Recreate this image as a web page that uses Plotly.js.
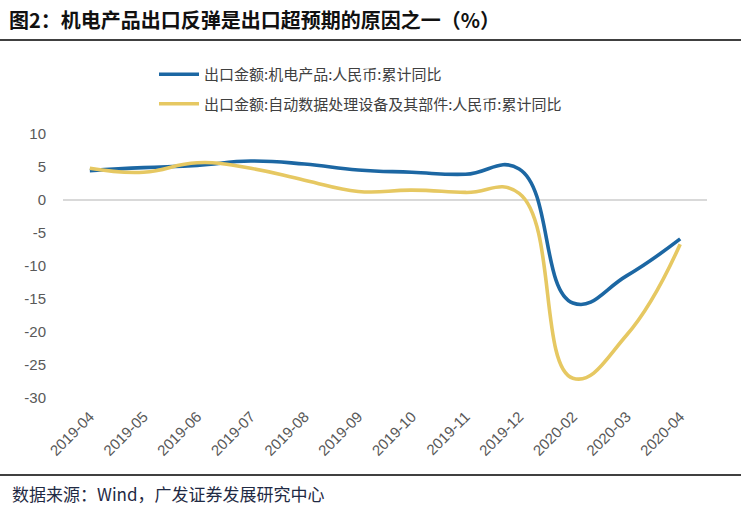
<!DOCTYPE html>
<html>
<head>
<meta charset="utf-8">
<script src="https://cdn.plot.ly/plotly-3.0.1.min.js"></script>
<style>html,body{margin:0;padding:0;background:#fff;}#chart{width:741px;height:513px;}</style>
</head>
<body>
<div id="chart"></div>
<script>
const categories = ["2019-04","2019-05","2019-06","2019-07","2019-08","2019-09","2019-10","2019-11","2019-12","2020-02","2020-03","2020-04"];
const mechElec = [4.45, 4.9, 5.25, 5.9, 5.45, 4.55, 4.2, 3.9, 4.7, -15.6, -11.5, -5.9];
const adpEquip = [4.8, 4.2, 5.65, 4.8, 3.0, 1.3, 1.5, 1.15, 1.0, -27.0, -20.5, -6.7];
const seriesNames = ["出口金额:机电产品:人民币:累计同比", "出口金额:自动数据处理设备及其部件:人民币:累计同比"];
const yTicks = [10, 5, 0, -5, -10, -15, -20, -25, -30];

const W = 741, H = 513;
const L = 63, R = 34, T = 134, B = 115;
const pw = W - L - R, ph = H - T - B;
const px = x => (x - L) / pw;
const py = y => (H - B - y) / ph;

const traces = [
  {x: categories, y: mechElec, name: seriesNames[0], type: "scatter", mode: "lines",
   line: {color: "#1c67a3", width: 3.6, shape: "spline", smoothing: 1.3}, legendgroup: "a"},
  {x: categories, y: adpEquip, name: seriesNames[1], type: "scatter", mode: "lines",
   line: {color: "#e6c862", width: 3.6, shape: "spline", smoothing: 1.3}, legendgroup: "b"}
];

const layout = {
  width: W, height: H,
  margin: {l: L, r: R, t: T, b: B, pad: 0},
  paper_bgcolor: "#fff", plot_bgcolor: "#fff",
  font: {family: "Liberation Sans, Arial, sans-serif", color: "#595959"},
  showlegend: true,
  legend: {
    x: px(154), y: py(58), xanchor: "left", yanchor: "top",
    orientation: "v", tracegroupgap: 7, itemwidth: 40,
    font: {family: "Noto Sans CJK SC", size: 15, color: "#404040"},
    bgcolor: "rgba(0,0,0,0)"
  },
  xaxis: {
    type: "category", range: [-0.5, 11.5], fixedrange: true,
    showgrid: false, zeroline: false, showline: false, ticks: "",
    tickangle: -45, tickfont: {size: 15, color: "#595959"}, ticklabelstandoff: 6
  },
  yaxis: {
    range: [-30, 10], tickvals: yTicks, ticktext: yTicks.map(String),
    showgrid: false, zeroline: true, zerolinecolor: "#d9d9d9", zerolinewidth: 2,
    showline: false, ticks: "", tickfont: {size: 15, color: "#595959"}, ticklabelstandoff: 16
  },
  shapes: [
    {type: "line", xref: "paper", yref: "paper", x0: px(0), x1: px(741), y0: py(40), y1: py(40),
     line: {color: "#000", width: 1.5}},
    {type: "line", xref: "paper", yref: "paper", x0: px(0), x1: px(741), y0: py(475), y1: py(475),
     line: {color: "#000", width: 1.5}}
  ],
  annotations: [
    {text: "<b>图2：机电产品出口反弹是出口超预期的原因之一（%）</b>", xref: "paper", yref: "paper",
     x: px(7), y: py(19), xanchor: "left", yanchor: "middle", showarrow: false,
     font: {family: "Noto Sans CJK SC", size: 20, color: "#111"}},
    {text: "数据来源：Wind，广发证券发展研究中心", xref: "paper", yref: "paper",
     x: px(10), y: py(493), xanchor: "left", yanchor: "middle", showarrow: false,
     font: {family: "Noto Sans CJK SC", size: 17, color: "#1f2a44"}}
  ]
};

Plotly.newPlot("chart", traces, layout, {displayModeBar: false, staticPlot: true});
</script>
</body>
</html>
